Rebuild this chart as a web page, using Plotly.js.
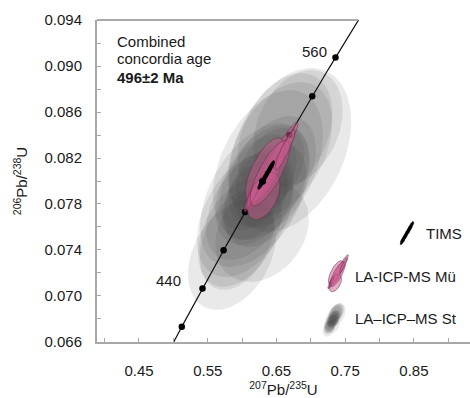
<!DOCTYPE html>
<html><head><meta charset="utf-8">
<script src="https://cdn.plot.ly/plotly-3.0.1.min.js"></script>
<style>html,body{margin:0;padding:0;background:#fff}</style>
</head><body><div id="chart" style="width:470px;height:398px"></div>
<script>
// Decay constants (per year)
const L238 = 1.55125e-10, L235 = 9.8485e-10;
// Concordia age markers (Ma)
const concordiaAges = [420, 440, 460, 480, 500, 520, 540, 560];
const labelledAges = [440, 560];
const concordiaAge = 496;           // Ma
const concordiaAgeText = "496±2 Ma";

// LA-ICP-MS St (grey) error ellipses: centre 207Pb/235U, centre 206Pb/238U, half-width x, half-width y, rho
const stX   = [0.6697, 0.5853, 0.6290, 0.6377, 0.6188, 0.6552, 0.6042, 0.6290, 0.6435, 0.6115, 0.6624, 0.5970, 0.6333, 0.6231, 0.6813, 0.5926, 0.6188, 0.6406];
const stY   = [0.08270, 0.07357, 0.07557, 0.08139, 0.07878, 0.08270, 0.07704, 0.07965, 0.08078, 0.07791, 0.08400, 0.07557, 0.07878, 0.07991, 0.08461, 0.07487, 0.07835, 0.08096];
const stAx  = [0.0890, 0.0640, 0.0680, 0.0800, 0.0800, 0.0760, 0.0700, 0.0680, 0.0640, 0.0640, 0.0690, 0.0610, 0.0600, 0.0560, 0.0650, 0.0540, 0.0480, 0.0500];
const stAy  = [0.00713, 0.00478, 0.00435, 0.00652, 0.00626, 0.00591, 0.00539, 0.00522, 0.00487, 0.00478, 0.00539, 0.00478, 0.00452, 0.00417, 0.00504, 0.00435, 0.00348, 0.00365];
const stRho = [0.35, 0.35, 0.25, 0.40, 0.45, 0.40, 0.40, 0.45, 0.40, 0.45, 0.35, 0.40, 0.40, 0.45, 0.30, 0.35, 0.40, 0.40];

// LA-ICP-MS Mü (pink) error ellipses
const muX   = [0.6442, 0.6333, 0.6311, 0.6144, 0.6406, 0.6624];
const muY   = [0.08130, 0.08096, 0.07870, 0.07870, 0.08070, 0.08270];
const muAx  = [0.0371, 0.0285, 0.0240, 0.0116, 0.0290, 0.0146];
const muAy  = [0.00383, 0.00280, 0.00205, 0.00139, 0.00285, 0.00174];
const muRho = [0.96, 0.68, 0.45, 0.90, 0.78, 0.90];

// TIMS error ellipses
const timsX   = [0.6282, 0.6331, 0.6379, 0.6419];
const timsY   = [0.07981, 0.08031, 0.08081, 0.08123];
const timsAx  = [0.0055, 0.0055, 0.0055, 0.0055];
const timsAy  = [0.00055, 0.00055, 0.00055, 0.00055];
const timsRho = [0.80, 0.80, 0.80, 0.80];

const xRange = [0.3889, 0.9316];
const yRange = [0.06599, 0.09401];

function conc(t) { // t in Ma
  return [Math.exp(L235 * t * 1e6) - 1, Math.exp(L238 * t * 1e6) - 1];
}
function ellipse(cx, cy, ax, ay, rho, n) {
  n = n || 90;
  const xs = [], ys = [], s = Math.sqrt(1 - rho * rho);
  for (let i = 0; i <= n; i++) {
    const a = 2 * Math.PI * i / n;
    xs.push(cx + ax * Math.cos(a));
    ys.push(cy + ay * (rho * Math.cos(a) + s * Math.sin(a)));
  }
  return [xs, ys];
}
function mean(a) { return a.reduce((p, c) => p + c, 0) / a.length; }

const traces = [];
function addSet(X, Y, AX, AY, R, style, icon) {
  let mx = mean(X), my = mean(Y), k = 1, ox = mx, oy = my;
  if (icon) { k = icon.k; ox = icon.x; oy = icon.y; }
  for (let i = 0; i < X.length; i++) {
    const e = ellipse(X[i], Y[i], AX[i], AY[i], R[i]);
    const xs = e[0].map(v => ox + k * (v - mx));
    const ys = e[1].map(v => oy + k * (v - my));
    traces.push(Object.assign({x: xs, y: ys, type: 'scatter', mode: 'lines', fill: 'toself',
      hoverinfo: 'skip', showlegend: false}, style));
  }
}

const greyStyle = {fillcolor: 'rgba(55,55,55,0.11)', line: {width: 0, color: 'rgba(0,0,0,0)'}};
const pinkStyle = {fillcolor: 'rgba(200,90,140,0.5)', line: {width: 0.8, color: 'rgba(110,40,75,0.65)'}};
const timsStyle = {fillcolor: '#000', line: {width: 0.6, color: '#000'}};

// grey data ellipses
addSet(stX, stY, stAx, stAy, stRho, greyStyle);

// concordia curve
const cx = [], cy = [];
for (let t = 380; t <= 600; t += 1) { const p = conc(t); cx.push(p[0]); cy.push(p[1]); }
traces.push({x: cx, y: cy, type: 'scatter', mode: 'lines', line: {color: '#111', width: 1.2}, hoverinfo: 'skip', showlegend: false});
traces.push({x: concordiaAges.map(t => conc(t)[0]), y: concordiaAges.map(t => conc(t)[1]), type: 'scatter', mode: 'markers',
  marker: {color: '#000', size: 6.5}, hoverinfo: 'skip', showlegend: false});

// pink ellipses
addSet(muX, muY, muAx, muAy, muRho, pinkStyle);
// TIMS
addSet(timsX, timsY, timsAx, timsAy, timsRho, timsStyle);
// concordia age point
traces.push({x: [conc(concordiaAge)[0]], y: [conc(concordiaAge)[1]], type: 'scatter', mode: 'markers',
  marker: {color: '#000', size: 7}, hoverinfo: 'skip', showlegend: false});

// legend icons (miniatures of the data sets)
addSet(timsX, timsY, timsAx, timsAy, timsRho, timsStyle, {k: 0.8, x: 0.8400, y: 0.07548});
addSet(muX, muY, muAx, muAy, muRho, pinkStyle, {k: 0.38, x: 0.7380, y: 0.07183});
addSet(stX, stY, stAx, stAy, stRho, greyStyle, {k: 0.14, x: 0.7323, y: 0.06791});

// top frame line ends where concordia leaves the plot
const tTop = Math.log(1 + yRange[1]) / L238 / 1e6;
const xTop = conc(tTop)[0];

const F = 'Liberation Sans, Arial, sans-serif';
const ann = (text, x, y, xa, extra) => Object.assign({text: text, x: x, y: y, xref: 'paper', yref: 'paper',
  xanchor: xa, yanchor: 'middle', showarrow: false, font: {family: F, size: 15, color: '#1a1a1a'}}, extra || {});

const layout = {
  width: 470, height: 398,
  margin: {l: 97, r: 0, t: 20, b: 56},
  paper_bgcolor: '#fff', plot_bgcolor: '#fff',
  font: {family: F, size: 15, color: '#1a1a1a'},
  showlegend: false,
  xaxis: {range: xRange, showgrid: false, zeroline: false, showline: true, linecolor: '#a8a8a8', linewidth: 2,
    ticks: 'inside', ticklen: 4, tickcolor: '#a8a8a8', tick0: 0.45, dtick: 0.1, tickformat: '.2f',
    minor: {dtick: 0.05, tick0: 0.45, ticks: 'inside', ticklen: 4, tickcolor: '#a8a8a8'},
    ticklabelstandoff: 14,
    title: {text: '<sup>207</sup>Pb/<sup>235</sup>U', font: {size: 15}, standoff: 8}, fixedrange: true},
  yaxis: {range: yRange, showgrid: false, zeroline: false, showline: true, linecolor: '#a8a8a8', linewidth: 2,
    ticks: 'inside', ticklen: 4, tickcolor: '#a8a8a8', tick0: 0.066, dtick: 0.004, tickformat: '.3f',
    minor: {dtick: 0.002, tick0: 0.066, ticks: 'inside', ticklen: 4, tickcolor: '#a8a8a8'},
    ticklabelstandoff: 10,
    title: {text: '<sup>206</sup>Pb/<sup>238</sup>U', font: {size: 15}, standoff: 13}, fixedrange: true},
  shapes: [{type: 'line', xref: 'x', yref: 'paper', x0: xRange[0], x1: xTop, y0: 1, y1: 1,
    line: {color: '#a8a8a8', width: 2}}],
  annotations: [
    ann('Combined', 0.0483, 0.9326, 'left'),
    ann('concordia age', 0.0483, 0.8789, 'left'),
    ann('<b>' + concordiaAgeText + '</b>', 0.0483, 0.8199, 'left'),
    ann(String(labelledAges[0]), 0.1917, 0.1925, 'center'),
    ann(String(labelledAges[1]), 0.5818, 0.9016, 'center'),
    ann('TIMS', 0.8767, 0.3385, 'left'),
    ann('LA-ICP-MS Mü', 0.6863, 0.2019, 'left'),
    ann('LA–ICP–MS St', 0.6863, 0.0745, 'left')
  ]
};
Plotly.newPlot('chart', traces, layout, {staticPlot: true, displayModeBar: false});
</script></body></html>
